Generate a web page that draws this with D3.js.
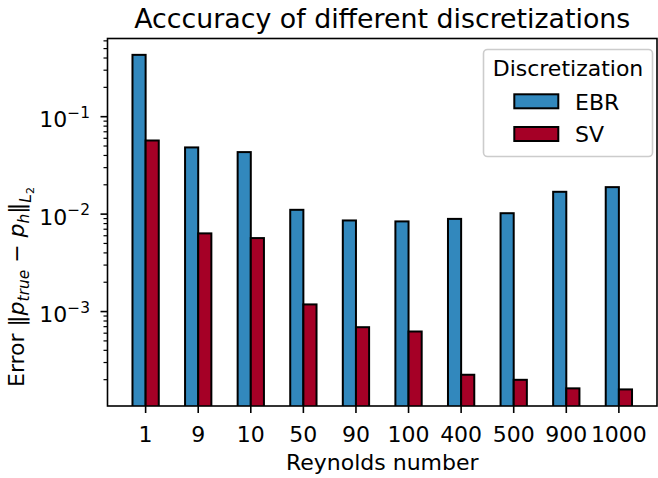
<!DOCTYPE html>
<html><head><meta charset="utf-8">
<script src="https://cdn.jsdelivr.net/npm/d3@7"></script>
<style>body{margin:0;background:#fff} text{font-family:"DejaVu Sans",sans-serif;fill:#000}</style>
</head><body><svg id="c" width="658" height="478"></svg>
<script>
const categories = ["1","9","10","50","90","100","400","500","900","1000"];
const seriesNames = ["EBR","SV"];
const ebrValues = [0.426,0.0478,0.0428,0.01094,0.00851,0.00832,0.00883,0.0101,0.01675,0.0187];
const svValues = [0.0563,0.00627,0.00561,0.00117,0.000683,0.000617,0.000222,0.000197,0.000161,0.000157];
const majorTicks = [1e-3,1e-2,1e-1];
const majorExps = ["\u22123","\u22122","\u22121"];
const colors = ["#3288bd","#a50026"];
const titleText = "Acccuracy of different discretizations";
const xLabel = "Reynolds number";
const legendTitle = "Discretization";

const svg = d3.select("#c");
const L = 107.5, R = 657, T = 38.5, B = 406;
const FS = 22;

const x = d3.scaleBand().domain(categories).range([L, R]).paddingInner(0.5).paddingOuter(0.475);
const xs = d3.scaleBand().domain(seriesNames).range([0, x.bandwidth()]);
const y = d3.scaleLog().domain([1.061e-4, 0.627]).range([B, T]);

const series = [ebrValues, svValues];
svg.append("defs").append("clipPath").attr("id","clip").append("rect")
  .attr("x", L).attr("y", T).attr("width", R-L).attr("height", B-T);
const gBars = svg.append("g").attr("clip-path","url(#clip)");
seriesNames.forEach((s, si) => {
  gBars.selectAll(null).data(categories.map((c, i) => ({c, v: series[si][i]})))
    .enter().append("rect")
    .attr("x", d => x(d.c) + xs(s))
    .attr("y", d => y(d.v))
    .attr("width", xs.bandwidth())
    .attr("height", d => B - y(d.v) + 5)
    .attr("fill", colors[si])
    .attr("stroke", "#000").attr("stroke-width", 2);
});

// x axis
const gx = svg.append("g").attr("transform", `translate(0,${B})`)
  .call(d3.axisBottom(x).tickSize(7));
gx.select(".domain").remove();
gx.selectAll(".tick line").attr("stroke","#000").attr("stroke-width",1.6);
gx.selectAll(".tick text").attr("y", 36).attr("dy", null)
  .attr("font-size", FS).attr("font-family", "DejaVu Sans");

// y axis minor
const minorTicks = [];
[-4,-3,-2,-1].forEach(e => { for (let m = 2; m <= 9; m++) { const v = m * Math.pow(10, e); if (v >= y.domain()[0] && v <= y.domain()[1]) minorTicks.push(v); } });
const gyMinor = svg.append("g").attr("transform", `translate(${L},0)`)
  .call(d3.axisLeft(y).tickValues(minorTicks).tickSize(4).tickFormat(""));
gyMinor.select(".domain").remove();
gyMinor.selectAll(".tick line").attr("stroke","#000").attr("stroke-width",1.2);

const gy = svg.append("g").attr("transform", `translate(${L},0)`)
  .call(d3.axisLeft(y).tickValues(majorTicks).tickSize(7).tickFormat(""));
gy.select(".domain").remove();
gy.selectAll(".tick line").attr("stroke","#000").attr("stroke-width",1.6);
gy.selectAll(".tick").each(function(d, i) {
  const t = d3.select(this).append("text")
    .attr("x", -17.5).attr("y", 10.7).attr("text-anchor", "end")
    .attr("font-size", FS).attr("font-family", "DejaVu Sans");
  t.append("tspan").text("10");
  t.append("tspan").attr("dy", -9.7).attr("font-size", FS * 0.7).text(majorExps[i]);
});

// spines
svg.append("rect").attr("x", L).attr("y", T).attr("width", R-L).attr("height", B-T)
  .attr("fill","none").attr("stroke","#000").attr("stroke-width",1.6);

// title
svg.append("text").attr("x", (L+R)/2).attr("y", 28).attr("text-anchor","middle")
  .attr("font-size", 26.8).text(titleText);

// x label
svg.append("text").attr("x", (L+R)/2).attr("y", 470).attr("text-anchor","middle")
  .attr("font-size", FS).text(xLabel);

// y label
const yl = svg.append("text").attr("transform", "translate(24,387) rotate(-90)")
  .attr("text-anchor","start").attr("font-size", FS);
yl.append("tspan").text("Error ");
yl.append("tspan").text("\u2016");
yl.append("tspan").attr("font-style","italic").text("p");
yl.append("tspan").attr("font-style","italic").attr("font-size", FS*0.7).attr("dy", 5).text("true");
yl.append("tspan").attr("dy", -5).text(" \u2212 ");
yl.append("tspan").attr("font-style","italic").text("p");
yl.append("tspan").attr("font-style","italic").attr("font-size", FS*0.7).attr("dy", 5).text("h");
yl.append("tspan").attr("dy", -5).text("\u2016");
yl.append("tspan").attr("font-style","italic").attr("font-size", FS*0.7).attr("dy", 7).text("L");
yl.append("tspan").attr("font-size", FS*0.5).attr("dy", 3).text("2");

// legend
const lg = svg.append("g");
lg.append("rect").attr("x", 483.5).attr("y", 49.5).attr("width", 169).attr("height", 107).attr("rx", 4)
  .attr("fill", "#fff").attr("fill-opacity", 0.8).attr("stroke", "#cccccc").attr("stroke-width", 1.6);
lg.append("text").attr("x", 568).attr("y", 75.7).attr("text-anchor","middle").attr("font-size", FS).text(legendTitle);
const legY = [94.3, 127];
const legBase = [110, 141.7];
seriesNames.forEach((s, i) => {
  lg.append("rect").attr("x", 514.3).attr("y", legY[i]).attr("width", 44).attr("height", 14)
    .attr("fill", colors[i]).attr("stroke", "#000").attr("stroke-width", 2);
  lg.append("text").attr("x", 575).attr("y", legBase[i]).attr("font-size", FS).text(s);
});
</script></body></html>
